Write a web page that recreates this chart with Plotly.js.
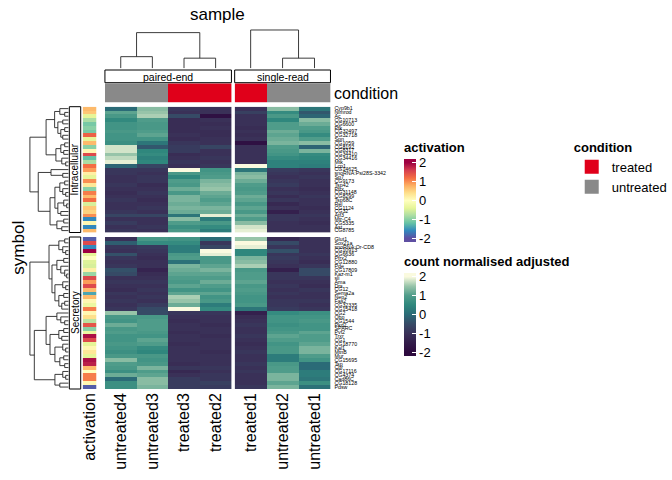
<!DOCTYPE html>
<html><head><meta charset="utf-8">
<script src="https://cdn.plot.ly/plotly-3.0.1.min.js"></script>
<style>html,body{margin:0;padding:0;background:#fff}#chart{width:672px;height:480px}</style>
</head><body><div id="chart"></div>
<script>
// ---------------- data ----------------
const samples = ['untreated4','untreated3','treated3','treated2','treated1','untreated2','untreated1'];
const sampleType = ['paired-end','paired-end','paired-end','paired-end','single-read','single-read','single-read'];
const condition = ['untreated','untreated','treated','treated','treated','untreated','untreated'];
const conditionLevels = ['treated','untreated'];
const conditionColors = ['#E0001A','#898989'];
const rowGroups = ['Intracellular','Secretory'];

const topSymbols = ['Cyp9b1','Nimrod','Ac','CG10713','CG6600','Pfk','CG32497','CG32718','Spn','CG1059','CG8192',
 'CG8317','CG34410','CG34416','Mtk','Lcp1','CG14625','snoRNA:Psi28S-3342','Sp7','CG9173','Tsp42','Pfrx','CG31148',
 'CG8299','Tsp68C','Rel','CG1124','CG32','Atf3','Mtr-C4','CG5335','Ast','CG8785'];
const bottomSymbols = ['Glut1','Sox21a','snoRNA:Or-CD8','CG10913','CG6636','Pfrx2','CG12880','Pde','CG17809','Kaz-m1',
 'sli','Ama','Drs','CG12','Sema2a','Nep2','Fas2','CG32335','CG15418','CG2','Obp','CG1544','Pkd2','SPARC','Pvf2','Trxr',
 'CG1','CG18770','Kal1','MtnB','Mur','CG15695','Tsp','Cpr','CG17116','CG4374','Cad86C','CG18128','Pdsw'];

const topActivation = [0.7,0.6,-0.4,-0.8,-1.1,-1.0,-1.1,1.3,-0.4,0.7,-1.0,0.1,1.5,-1.2,-0.8,1.2,0.9,0.2,-0.4,1.0,0.3,
 -1.0,1.1,0.7,1.2,-0.5,0.6,0.5,1.0,-1.6,0.1,-1.6,0.7];
const bottomActivation = [-1.9,1.5,-1.6,2.0,-0.4,0.0,-0.45,-0.5,0.2,-0.9,1.5,0.9,1.5,0.7,-1.4,0.7,0.1,-0.3,1.1,0.1,
 0.4,-0.7,1.4,-1.0,-0.3,1.9,1.5,-0.4,0.1,0.3,-0.4,1.9,1.8,0.7,0.0,1.1,1.1,0.1,-1.9];

// rows: values per sample in the order of `samples`
const topCounts = [
 [0.0,1.4,-0.9,-1.0,-1.0,1.4,0.2],
 [1.1,1.5,-1.0,-1.0,-0.7,0.6,-0.3],
 [0.9,1.6,-0.5,-1.8,-1.0,0.9,-0.1],
 [0.55,1.0,-1.1,-1.0,-1.0,0.5,1.4],
 [0.8,0.9,-1.1,-1.1,-1.0,1.0,1.2],
 [0.8,0.9,-1.1,-1.0,-1.1,1.0,1.0],
 [0.9,1.0,-1.1,-1.1,-1.0,1.2,0.9],
 [0.8,1.1,-1.0,-1.1,-1.1,1.1,0.6],
 [0.8,0.8,-1.1,-1.0,-1.0,1.2,1.0],
 [0.7,0.2,-0.9,-1.0,-1.8,1.3,1.4],
 [1.8,-0.3,-0.8,-0.6,-1.0,1.0,-0.1],
 [1.8,0.5,-0.8,-1.0,-1.0,0.9,1.3],
 [1.5,0.6,-1.1,-1.0,-1.0,0.8,0.6],
 [1.7,0.4,-1.0,-0.9,-1.0,0.6,0.5],
 [1.9,0.5,-0.9,-1.0,-1.0,0.4,0.4],
 [-0.1,-0.6,-1.0,-0.9,2.0,0.4,0.3],
 [-0.9,-0.9,2.0,0.8,0.2,-0.8,-0.9],
 [-0.9,-1.0,0.9,0.9,1.3,-0.9,-1.0],
 [-1.0,-0.9,0.5,1.0,1.4,-1.0,-0.9],
 [-1.0,-0.9,1.0,1.3,1.2,-0.9,-1.0],
 [-0.9,-1.1,0.9,1.4,1.0,-0.8,-1.0],
 [-1.0,-1.0,1.2,1.5,0.9,-1.0,-1.1],
 [-1.1,-0.9,0.9,1.2,1.0,-0.9,-1.0],
 [-1.0,-1.0,1.3,1.1,1.2,-1.1,-0.9],
 [-0.9,-1.1,1.3,1.0,1.1,-0.9,-1.0],
 [-1.0,-1.0,1.2,1.1,0.9,-1.2,-1.0],
 [-1.0,-0.9,1.3,1.3,1.1,-1.0,-1.1],
 [-0.9,-1.0,1.2,1.2,0.9,-1.4,-1.0],
 [-0.6,-0.6,0.2,1.9,1.2,-0.9,-0.9],
 [-1.0,-1.0,1.4,0.3,1.0,-0.9,-1.0],
 [-0.8,-1.0,1.0,0.9,1.4,-1.0,-1.1],
 [-1.0,-0.9,0.7,0.6,1.8,-1.0,-1.0],
 [-0.9,-1.0,0.9,0.3,1.9,-1.0,-1.0]
];
const bottomCounts = [
 [-1.0,0.9,0.8,0.0,1.5,-1.2,-1.0],
 [-0.2,0.6,0.6,-0.9,2.0,-0.5,-1.0],
 [-0.9,-0.8,0.3,-0.6,1.9,-0.9,-1.0],
 [-1.0,-0.9,0.3,2.0,0.5,-0.4,-1.0],
 [-0.4,-1.0,0.9,1.9,0.5,-0.9,-0.9],
 [-0.9,-1.1,1.0,0.9,1.3,-0.8,-1.0],
 [-1.0,-1.0,0.1,0.9,1.4,-0.9,-1.1],
 [-0.9,-1.0,1.3,1.1,1.6,-1.0,-0.9],
 [-0.4,-1.3,1.2,1.3,0.9,-1.4,-0.5],
 [-0.5,-1.1,1.1,1.1,1.0,-0.9,-0.5],
 [-1.0,-1.0,1.0,1.0,1.0,-0.9,-0.9],
 [-0.9,-0.9,0.9,1.2,1.1,-1.0,-1.0],
 [-1.0,-1.0,1.1,1.0,0.9,-0.9,-1.1],
 [-1.1,-0.9,0.8,0.8,1.0,-1.0,-0.9],
 [-0.9,-1.0,1.1,1.1,0.9,-0.9,-1.0],
 [-1.0,-0.9,1.6,0.8,0.8,-1.0,-1.0],
 [-0.9,-1.0,1.5,0.9,0.8,-0.9,-0.9],
 [-1.0,-0.8,1.2,0.3,0.9,-0.9,-1.0],
 [-0.9,-0.5,2.0,0.6,0.2,-0.8,-0.9],
 [1.5,-0.5,-0.9,-0.9,-1.4,0.6,0.7],
 [0.9,0.9,-1.0,-1.0,-1.1,0.8,0.8],
 [0.8,1.0,-1.1,-1.0,-1.0,0.8,0.9],
 [1.2,1.0,-1.0,-1.1,-0.9,0.7,0.8],
 [0.9,1.0,-1.0,-1.0,-1.0,0.8,0.8],
 [1.0,0.9,-1.1,-1.0,-1.0,0.9,1.1],
 [0.8,0.8,-1.0,-1.1,-0.9,1.1,1.0],
 [0.8,1.1,-1.0,-1.0,-1.0,1.0,1.0],
 [0.9,1.0,-1.1,-1.0,-1.1,0.8,1.1],
 [0.8,0.6,-1.0,-1.0,-1.0,0.9,1.3],
 [0.7,0.5,-1.0,-1.1,-0.9,0.9,1.3],
 [0.9,0.9,-1.0,-1.0,-1.0,0.3,1.0],
 [1.4,0.8,-1.0,-1.0,-1.0,0.3,0.8],
 [1.0,0.9,-1.1,-1.0,-0.9,0.9,0.0],
 [0.9,1.3,-0.9,-0.9,-1.0,1.0,0.0],
 [0.7,1.0,-1.2,-1.0,-0.9,1.0,0.3],
 [1.2,1.1,-1.0,-0.9,-1.0,1.3,0.3],
 [0.0,1.4,-0.8,-0.9,-1.0,1.3,0.2],
 [0.7,1.4,-0.8,-0.7,-1.0,1.1,0.7],
 [0.7,1.3,-0.8,-0.8,-0.9,1.3,0.1]
];

// dendrograms: [height, left, right]; leaves are row / column indices
const pairedColTree = [9.5, [3.1, 0, 1], [2.7, 2, 3]];
const singleColTree = [10.2, 0, [2.7, 1, 2]];
const topRowTree = [39.5,
  [23, [14.3, [9, 0, [4, 1, 2]], [11, [6, 3, 4], [8, [4, 5, 6], [6, 7, 8]]]],
       [13, [8, [4, 9, 10], [5, 11, 12]], [7, 13, [3, 14, 15]]]],
  [31, [18, 16, [6, 17, 18]],
       [19, [14, [9, [4, 19, 20], [6, 21, [3, 22, 23]]], [11, [5, 24, [2, 25, 26]], [8, 27, 28]]],
            [12, [5, 29, 30], [7, 31, 32]]]]];
const bottomRowTree = [39.5,
  [20, [10, [4, 0, 1], [6, 2, [3, 3, 4]]],
       [17, [12, [5, 5, 6], [8, 7, [4, 8, [2, 9, 10]]]],
            [14, [6, 11, [3, 12, 13]], [10, [5, 14, 15], [7, [4, 16, 17], 18]]]]],
  [35, [23, [12, 19, [8, 20, [4, 21, 22]]],
            [19, [10, [5, 23, 24], [7, 25, 26]], [14, [6, 27, [3, 28, 29]], [9, [5, 30, 31], [4, 32, 33]]]]],
       [14, [6, 34, [3, 35, 36]], [9, 37, 38]]]];

// colour palettes [value, colour]
const activationPalette = [[-2,'#5E4FA2'],[-1.6,'#3288BD'],[-1.2,'#66C2A5'],[-0.8,'#ABDDA4'],[-0.4,'#E6F598'],
 [0,'#FFFFBF'],[0.4,'#FEE08B'],[0.8,'#FDAE61'],[1.2,'#F46D43'],[1.6,'#D53E4F'],[2,'#9E0142']];
const countPalette = [[-2,'#2D0A3E'],[-1.5,'#331C4A'],[-1,'#3A3158'],[-0.5,'#364A66'],[0,'#2B6B77'],
 [0.5,'#2F877D'],[1,'#4F9C8A'],[1.5,'#97C4A9'],[2,'#FAFADF']];

// ---------------- drawing ----------------
const W = 672, H = 480;
const px = p => p / W, py = p => 1 - p / H;
const FONT = 'Liberation Sans, Arial, Helvetica, sans-serif';
const CMIN = -2.2, CMAX = 2.2;
function scale(pal){
  const s = [[0, pal[0][1]]];
  pal.forEach(([v,c]) => s.push([(v - CMIN)/(CMAX - CMIN), c]));
  s.push([1, pal[pal.length-1][1]]);
  return s;
}
const countScale = scale(countPalette), actScale = scale(activationPalette);

const pairedIdx = samples.map((s,i)=>i).filter(i => sampleType[i]==='paired-end');
const singleIdx = samples.map((s,i)=>i).filter(i => sampleType[i]==='single-read');

function cbar(title, topPx){
  return {x: px(412), xanchor:'left', xpad:0, ypad:0, y: py(topPx), yanchor:'top',
    len: 103, lenmode:'pixels', thickness: 12, outlinewidth:0,
    tickvals:[-2,-1,0,1,2], ticktext:['-2','-1','0','1','2'], ticks:'inside', ticklen:4,
    tickcolor:'#ffffff', tickwidth:1, tickfont:{size:13, color:'#000', family:FONT},
    title:{text:'<b>'+title+'</b>', side:'top', font:{size:13, color:'#000', family:FONT}}};
}
function hm(names, counts, idx, xa, ya, bar){
  const t = {type:'heatmap', x: idx.map(i=>samples[i]), y: names,
    z: counts.map(r => idx.map(i => r[i])), xaxis: xa, yaxis: ya,
    colorscale: countScale, zmin: CMIN, zmax: CMAX, hoverinfo:'skip', showscale: !!bar};
  if (bar) t.colorbar = cbar('count normalised adjusted', 253);
  return t;
}
function act(names, vals, ya, bar){
  const t = {type:'heatmap', x:['activation'], y: names, z: vals.map(v=>[v]), xaxis:'x3', yaxis: ya,
    colorscale: actScale, zmin: CMIN, zmax: CMAX, hoverinfo:'skip', showscale: !!bar};
  if (bar) t.colorbar = cbar('activation', 139);
  return t;
}
function condTrace(idx, xa){
  return {type:'heatmap', x: idx.map(i=>samples[i]), y:['condition'],
    z:[idx.map(i => conditionLevels.indexOf(condition[i]))], xaxis: xa, yaxis:'y3',
    colorscale:[[0,conditionColors[0]],[0.5,conditionColors[0]],[0.5,conditionColors[1]],[1,conditionColors[1]]],
    zmin:0, zmax:1, showscale:false, hoverinfo:'skip'};
}
function treeXY(tree, rowWise){
  const xs = [], ys = [];
  function add(p, h){ if (rowWise){ xs.push(h); ys.push(p); } else { xs.push(p); ys.push(h); } }
  function walk(n){
    if (typeof n === 'number') return {p:n, h:0};
    const A = walk(n[1]), B = walk(n[2]), h = n[0];
    add(A.p, A.h); add(A.p, h); add(B.p, h); add(B.p, B.h);
    xs.push(null); ys.push(null);
    return {p:(A.p + B.p)/2, h};
  }
  walk(tree);
  return {xs, ys};
}
function dendro(tree, rowWise, xa, ya){
  const d = treeXY(tree, rowWise);
  return {type:'scatter', mode:'lines', x:d.xs, y:d.ys, xaxis:xa, yaxis:ya,
    line:{color:'#262626', width:0.9}, hoverinfo:'skip', showlegend:false};
}

const traces = [
  hm(topSymbols, topCounts, pairedIdx, 'x', 'y', true),
  hm(topSymbols, topCounts, singleIdx, 'x2', 'y', false),
  hm(bottomSymbols, bottomCounts, pairedIdx, 'x', 'y2', false),
  hm(bottomSymbols, bottomCounts, singleIdx, 'x2', 'y2', false),
  act(topSymbols, topActivation, 'y', true),
  act(bottomSymbols, bottomActivation, 'y2', false),
  condTrace(pairedIdx, 'x'),
  condTrace(singleIdx, 'x2'),
  dendro(pairedColTree, false, 'x4', 'y4'),
  dendro(singleColTree, false, 'x5', 'y4'),
  dendro(topRowTree, true, 'x6', 'y5'),
  dendro(bottomRowTree, true, 'x6', 'y6')
];
conditionLevels.forEach((lv, i) => traces.push({type:'scatter', mode:'markers', x:[null], y:[null],
  xaxis:'x4', yaxis:'y4', name: lv, marker:{symbol:'square', size:14, color: conditionColors[i]},
  showlegend:true, hoverinfo:'skip'}));

const PX = [107, 236], SX = [239.3, 337];
const TOPY = [232.5, 106.7], BOTY = [389, 237];
const hidden = {visible:false, fixedrange:true};
const catX = (vals, dom) => ({domain: dom, anchor:'y2', type:'category', categoryorder:'array', categoryarray: vals,
  tickmode:'array', tickvals: vals, ticktext: vals, tickangle:-90, tickfont:{size:16, color:'#000', family:FONT},
  showgrid:false, zeroline:false, showline:false, ticks:'', fixedrange:true});
const catY = (names, dom) => ({domain: dom, anchor:'x2', side:'right', type:'category', categoryorder:'array',
  categoryarray: names, autorange:'reversed', tickmode:'array', tickvals: names, ticktext: names,
  ticklabelstandoff: 3,
  tickfont:{size:5.3, color:'#000', family:FONT}, showgrid:false, zeroline:false, showline:false, ticks:'', fixedrange:true});

const ann = (o) => Object.assign({showarrow:false, xanchor:'center', yanchor:'middle'}, o);
const layout = {
  width: W, height: H, autosize:false, margin:{l:0, r:0, t:0, b:0, pad:0},
  paper_bgcolor:'#fff', plot_bgcolor:'rgba(0,0,0,0)', font:{family:FONT, color:'#000'},
  xaxis: catX(pairedIdx.map(i=>samples[i]), [px(PX[0]), px(PX[1])]),
  xaxis2: catX(singleIdx.map(i=>samples[i]), [px(SX[0]), px(SX[1])]),
  xaxis3: catX(['activation'], [px(84.3), px(98.3)]),
  yaxis: catY(topSymbols, [py(TOPY[0]), py(TOPY[1])]),
  yaxis2: catY(bottomSymbols, [py(BOTY[0]), py(BOTY[1])]),
  yaxis3: {domain:[py(102.7), py(83.3)], anchor:'x', type:'category', visible:false, fixedrange:true},
  xaxis4: Object.assign({domain:[px(PX[0]), px(PX[1])], range:[-0.5, pairedIdx.length-0.5], anchor:'y4'}, hidden),
  xaxis5: Object.assign({domain:[px(SX[0]), px(SX[1])], range:[-0.5, singleIdx.length-0.5], anchor:'y4'}, hidden),
  yaxis4: Object.assign({domain:[py(68.3), py(28.3)], range:[0, 10.65], anchor:'x4'}, hidden),
  xaxis6: Object.assign({domain:[px(28), px(70)], range:[42, 0], anchor:'y5'}, hidden),
  yaxis5: Object.assign({domain:[py(TOPY[0]), py(TOPY[1])], range:[topSymbols.length-0.5, -0.5], anchor:'x6'}, hidden),
  yaxis6: Object.assign({domain:[py(BOTY[0]), py(BOTY[1])], range:[bottomSymbols.length-0.5, -0.5], anchor:'x6'}, hidden),
  showlegend:true,
  legend:{x: px(583), xanchor:'left', y: py(135), yanchor:'top', bgcolor:'rgba(0,0,0,0)',
    font:{size:13, family:FONT, color:'#000'}, itemwidth:30, tracegroupgap:0,
    title:{text:'<b>condition</b>', font:{size:13, family:FONT, color:'#000'}}},
  shapes:[
    {type:'rect', xref:'x domain', x0:0, x1:1, yref:'paper', y0:py(82.7), y1:py(70), line:{color:'#000', width:1}, fillcolor:'#fff'},
    {type:'rect', xref:'x2 domain', x0:0, x1:1, yref:'paper', y0:py(82.7), y1:py(70), line:{color:'#000', width:1}, fillcolor:'#fff'},
    {type:'rect', xref:'paper', x0:px(70.7), x1:px(82.3), yref:'y domain', y0:0, y1:1, line:{color:'#000', width:1}, fillcolor:'#fff'},
    {type:'rect', xref:'paper', x0:px(70.7), x1:px(82.3), yref:'y2 domain', y0:0, y1:1, line:{color:'#000', width:1}, fillcolor:'#fff'}
  ],
  annotations:[
    ann({text:'sample', xref:'paper', yref:'paper', x:px(222), y:py(14), font:{size:17}}),
    ann({text:'symbol', xref:'paper', yref:'paper', x:px(18), y:py(248), textangle:-90, font:{size:17}}),
    ann({text:'condition', xref:'paper', yref:'paper', x:px(339), xanchor:'left', y:py(94), font:{size:16}}),
    ann({text:'paired-end', xref:'x domain', yref:'paper', x:0.5, y:py(76.6), font:{size:10.5}}),
    ann({text:'single-read', xref:'x2 domain', yref:'paper', x:0.5, y:py(76.6), font:{size:10.5}}),
    ann({text:rowGroups[0], xref:'paper', yref:'y domain', x:px(76.5), y:0.5, textangle:-90, font:{size:10}}),
    ann({text:rowGroups[1], xref:'paper', yref:'y2 domain', x:px(76.5), y:0.5, textangle:-90, font:{size:10}})
  ]
};
Plotly.newPlot('chart', traces, layout, {staticPlot:true, displayModeBar:false});
</script>
</body></html>
